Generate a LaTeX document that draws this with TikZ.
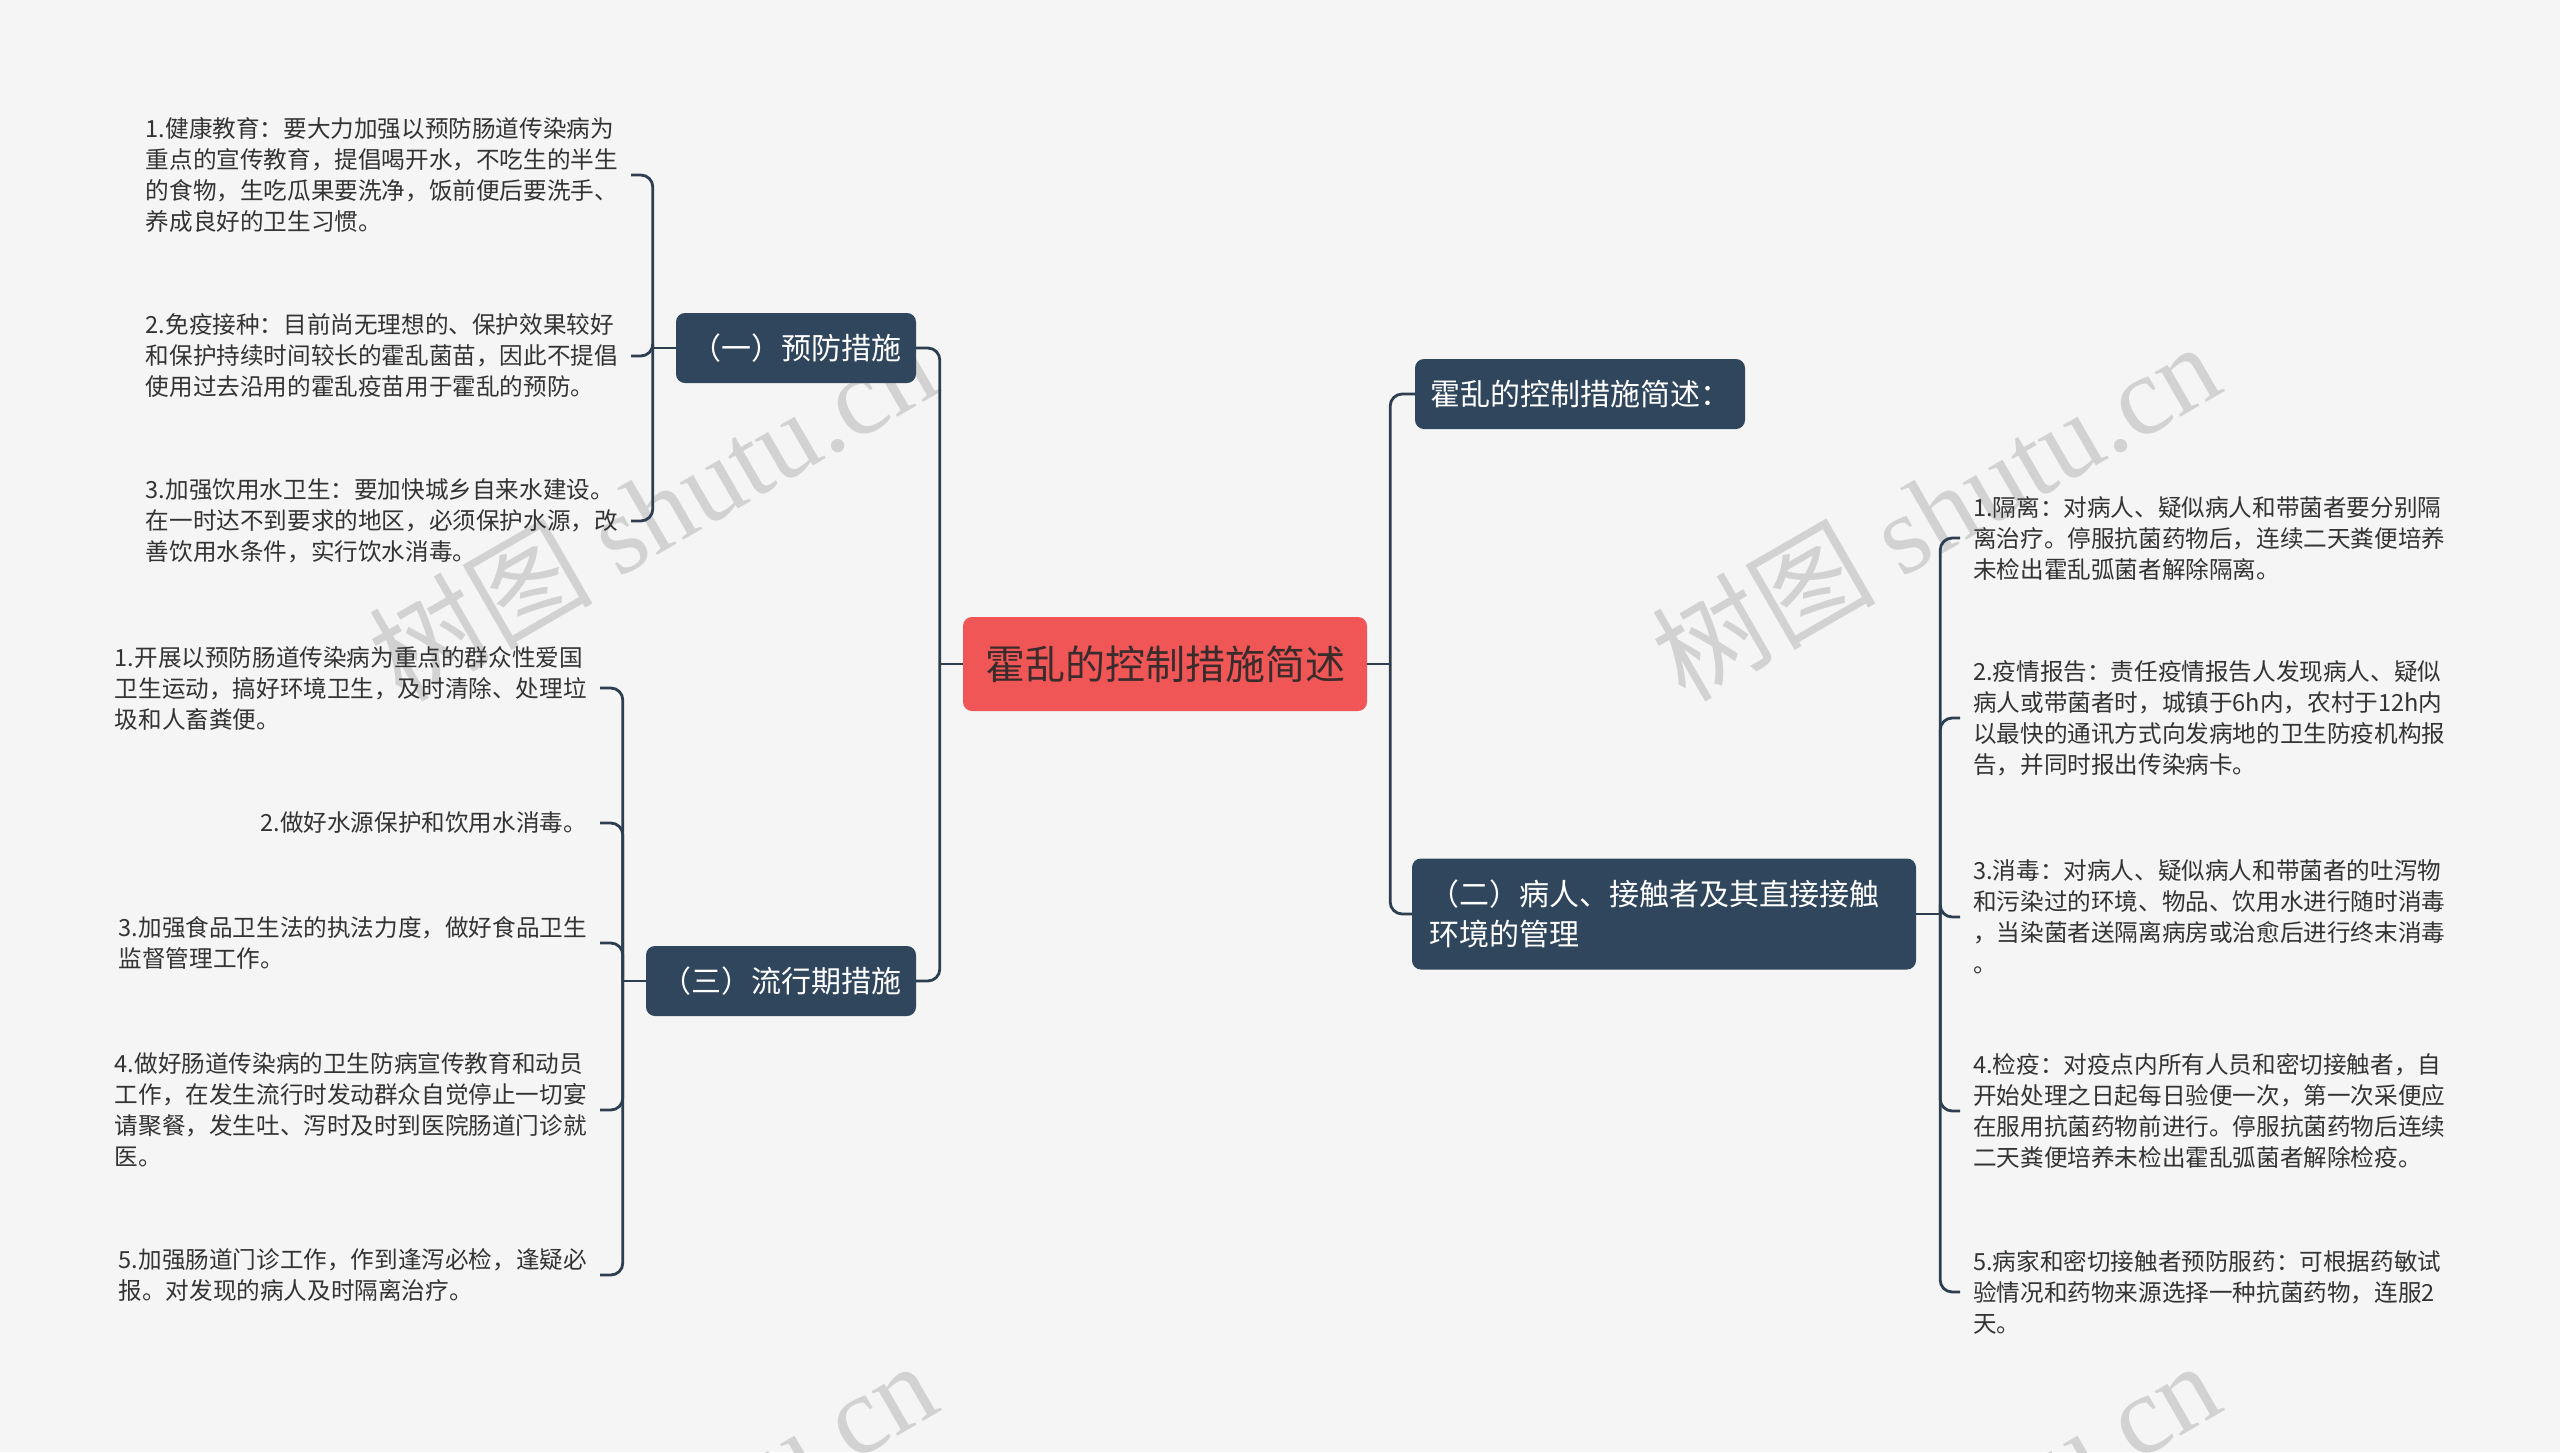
\documentclass[tikz,border=0pt]{standalone}
\usepackage{fontspec}
\setmainfont{Noto Sans CJK SC}
\newfontfamily\wmfont{Liberation Serif}
\usepackage{tikz}
\usetikzlibrary{positioning}

\definecolor{navy}{HTML}{30465C}
\definecolor{linecol}{HTML}{2C3E50}
\definecolor{rootred}{HTML}{F05656}
\definecolor{roottext}{HTML}{3A2C2C}
\definecolor{leaftext}{HTML}{333333}
\definecolor{bgcol}{HTML}{F5F5F5}
\definecolor{wmcol}{HTML}{D2D2D2}

\begin{document}
\begin{tikzpicture}[x=1pt, y=-1pt,
    root/.style={rectangle, rounded corners=9pt, fill=rootred, text=roottext,
      font=\fontsize{40pt}{48pt}\selectfont, inner xsep=22pt, minimum height=94pt},
    topic/.style={rectangle, rounded corners=9pt, fill=navy, text=white,
      font=\fontsize{30pt}{40pt}\selectfont, inner xsep=15pt, minimum height=70pt},
    leaf/.style={align=left, text=leaftext, font=\fontsize{23.6pt}{31pt}\selectfont,
      inner xsep=13pt, inner ysep=0pt},
    link/.style={draw=linecol, line width=2.8pt, rounded corners=12pt},
    wmark/.style={text=wmcol, font=\fontsize{112pt}{112pt}\selectfont, rotate=30}]

  \useasboundingbox (0,0) rectangle (2560,1452);
  \fill[bgcol] (0,0) rectangle (2560,1452);

  % watermarks
  \begin{scope}
    \clip (0,0) rectangle (2560,1452);
    \node[wmark] (wm1) at (652,510) {树图 {\wmfont shutu.cn}};
    \node[wmark] (wm2) at (652,1529) {树图 {\wmfont shutu.cn}};
    \node[wmark] (wm3) at (1935,510) {树图 {\wmfont shutu.cn}};
    \node[wmark] (wm4) at (1935,1529) {树图 {\wmfont shutu.cn}};
  \end{scope}

  % centre and main topics
  \node[root] (root) at (1165,664) {霍乱的控制措施简述};

  \node[topic] (pre) at (796,348) {（一）预防措施};
  \node[topic] (epi) at (781,981) {（三）流行期措施};
  \node[topic] (sum) at (1580,394) {霍乱的控制措施简述：};
  \node[topic, text width=470pt, align=left, inner xsep=17pt, minimum height=111pt]
    (man) at (1664,914) {（二）病人、接触者及其直接接触\\环境的管理};

  % leaves of (一)
  \node[leaf, anchor=east] (pre1) at (631,175) {1.健康教育：要大力加强以预防肠道传染病为\\重点的宣传教育，提倡喝开水，不吃生的半生\\的食物，生吃瓜果要洗净，饭前便后要洗手、\\养成良好的卫生习惯。};
  \node[leaf, anchor=east] (pre2) at (631,356) {2.免疫接种：目前尚无理想的、保护效果较好\\和保护持续时间较长的霍乱菌苗，因此不提倡\\使用过去沿用的霍乱疫苗用于霍乱的预防。};
  \node[leaf, anchor=east] (pre3) at (631,521) {3.加强饮用水卫生：要加快城乡自来水建设。\\在一时达不到要求的地区，必须保护水源，改\\善饮用水条件，实行饮水消毒。};

  % leaves of (三)
  \node[leaf, anchor=east] (epi1) at (600,688) {1.开展以预防肠道传染病为重点的群众性爱国\\卫生运动，搞好环境卫生，及时清除、处理垃\\圾和人畜粪便。};
  \node[leaf, anchor=east] (epi2) at (600,823) {2.做好水源保护和饮用水消毒。};
  \node[leaf, anchor=east] (epi3) at (600,943) {3.加强食品卫生法的执法力度，做好食品卫生\\监督管理工作。};
  \node[leaf, anchor=east] (epi4) at (600,1110) {4.做好肠道传染病的卫生防病宣传教育和动员\\工作，在发生流行时发动群众自觉停止一切宴\\请聚餐，发生吐、泻时及时到医院肠道门诊就\\医。};
  \node[leaf, anchor=east] (epi5) at (600,1275) {5.加强肠道门诊工作，作到逢泻必检，逢疑必\\报。对发现的病人及时隔离治疗。};

  % leaves of (二)
  \node[leaf, anchor=west] (man1) at (1960,538) {1.隔离：对病人、疑似病人和带菌者要分别隔\\离治疗。停服抗菌药物后，连续二天粪便培养\\未检出霍乱弧菌者解除隔离。};
  \node[leaf, anchor=west] (man2) at (1960,718) {2.疫情报告：责任疫情报告人发现病人、疑似\\病人或带菌者时，城镇于6h内，农村于12h内\\以最快的通讯方式向发病地的卫生防疫机构报\\告，并同时报出传染病卡。};
  \node[leaf, anchor=west] (man3) at (1960,917) {3.消毒：对病人、疑似病人和带菌者的吐泻物\\和污染过的环境、物品、饮用水进行随时消毒\\，当染菌者送隔离病房或治愈后进行终末消毒\\。};
  \node[leaf, anchor=west] (man4) at (1960,1111) {4.检疫：对疫点内所有人员和密切接触者，自\\开始处理之日起每日验便一次，第一次采便应\\在服用抗菌药物前进行。停服抗菌药物后连续\\二天粪便培养未检出霍乱弧菌者解除检疫。};
  \node[leaf, anchor=west] (man5) at (1960,1292) {5.病家和密切接触者预防服药：可根据药敏试\\验情况和药物来源选择一种抗菌药物，连服2\\天。};

  % connectors
  \draw[link] (root.west) -- ++(-23,0) coordinate (spL);
  \draw[link] (spL) |- (pre.east);
  \draw[link] (spL) |- (epi.east);
  \draw[link] (root.east) -- ++(23,0) coordinate (spR);
  \draw[link] (spR) |- (sum.west);
  \draw[link] (spR) |- (man.west);

  \draw[link] (pre.west) -- ++(-23,0) coordinate (spPre);
  \foreach \n in {pre1,pre2,pre3}
    \draw[link] (spPre) |- (\n.east);

  \draw[link] (epi.west) -- ++(-23,0) coordinate (spEpi);
  \foreach \n in {epi1,epi2,epi3,epi4,epi5}
    \draw[link] (spEpi) |- (\n.east);

  \draw[link] (man.east) -- ++(24,0) coordinate (spMan);
  \foreach \n in {man1,man2,man3,man4,man5}
    \draw[link] (spMan) |- (\n.west);
\end{tikzpicture}
\end{document}
